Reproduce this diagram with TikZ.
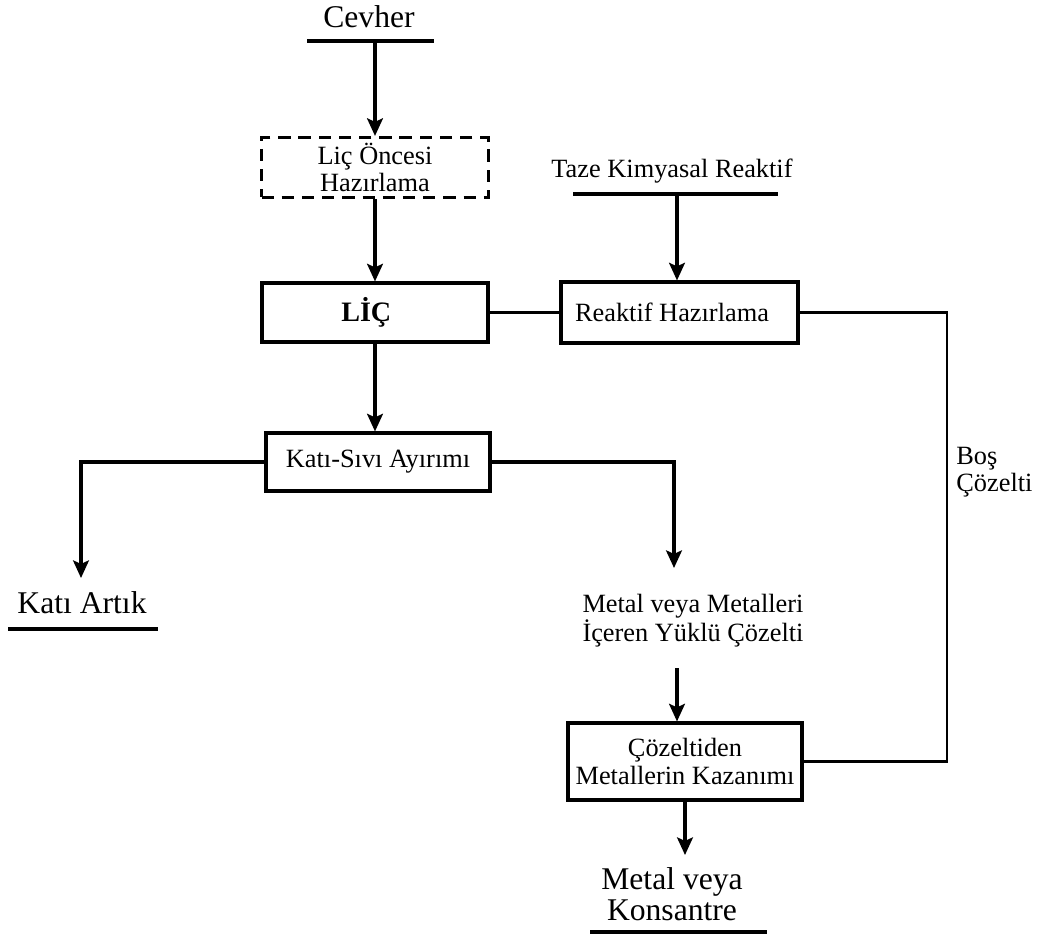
\documentclass[tikz,border=0pt]{standalone}
\usepackage{fontspec}
\setmainfont{Liberation Serif}
\usetikzlibrary{arrows.meta}

\begin{document}
\begin{tikzpicture}[x=0.02cm, y=-0.02cm,
        kutu/.style={draw, line width=1.8pt, inner sep=0pt, align=center,
          font=\fontsize{15}{15.5}\selectfont},
        yazi/.style={inner sep=0pt, align=center},
        akis/.style={line width=1.8pt, -{Stealth[length=10pt, width=9pt, inset=2pt]}},
        hat/.style={line width=1.8pt},
        ince/.style={line width=1.2pt}]
        \useasboundingbox (0,0) rectangle (1038,937);

        \node[yazi, anchor=base, font=\fontsize{18}{20}\selectfont] (cevher) at (369,27) {Cevher};
        \coordinate (cevherS) at (307,41);
        \coordinate (cevherE) at (434,41);
        \coordinate (cevherO) at (375,41);

        \node[kutu, dash pattern=on 7pt off 4.5pt, minimum width=4.54cm, minimum height=1.2cm]
          (hazirlik) at (375,167.5) {Liç Öncesi\\Hazırlama};
        \node[kutu, minimum width=4.52cm, minimum height=1.18cm,
          font=\bfseries\fontsize{16}{18}\selectfont] (lic) at (375,312.5) {LİÇ\hspace*{0.35cm}};

        \node[yazi, anchor=base, font=\fontsize{15}{17}\selectfont] (taze) at (672,177) {Taze Kimyasal Reaktif};
        \coordinate (tazeS) at (573,194);
        \coordinate (tazeE) at (778,194);
        \coordinate (tazeO) at (677,194);
        \node[kutu, minimum width=4.74cm, minimum height=1.22cm] (reak) at (679.5,312.5) {Reaktif Hazırlama\hspace*{0.3cm}};

        \node[kutu, minimum width=4.48cm, minimum height=1.16cm] (kati) at (378,462) {Katı-Sıvı Ayırımı};

        \node[yazi, anchor=base, font=\fontsize{18}{20}\selectfont] (artik) at (82,613) {Katı Artık};
        \coordinate (artikG) at (81,578);
        \coordinate (artikS) at (8,629);
        \coordinate (artikE) at (158,629);

        \node[yazi, font=\fontsize{15}{15.5}\selectfont] (yuklu) at (693,621) {Metal veya Metalleri\\İçeren Yüklü Çözelti};
        \coordinate (yukluG) at (674,568);
        \coordinate (yukluO) at (677,668);

        \node[kutu, minimum width=4.68cm, minimum height=1.54cm] (kazan) at (685,761.5) {Çözeltiden\\Metallerin Kazanımı};

        \node[yazi, font=\fontsize{18}{18}\selectfont] (urun) at (672,894) {Metal veya\\Konsantre};
        \coordinate (urunG) at (685,855);
        \coordinate (urunS) at (590,932);
        \coordinate (urunE) at (767,932);

        \node[yazi, anchor=west, align=left, font=\fontsize{15}{15.5}\selectfont] (bos) at (956,472) {Boş\\Çözelti};
        \coordinate (donus) at (947,312.5);

        \draw[hat] (cevherS) -- (cevherE);
        \draw[akis] (cevherO) -- (hazirlik.north);
        \draw[akis] (hazirlik.south) -- (lic.north);
        \draw[ince] (lic) -- (reak);
        \draw[hat] (tazeS) -- (tazeE);
        \draw[akis] (tazeO) -- (tazeO |- reak.north);
        \draw[ince] (reak.east) -- (donus) |- (kazan.east);
        \draw[akis] (lic.south) -- (lic.south |- kati.north);
        \draw[akis] (kati.west) -| (artikG);
        \draw[hat] (artikS) -- (artikE);
        \draw[akis] (kati.east) -| (yukluG);
        \draw[akis] (yukluO) -- (yukluO |- kazan.north);
        \draw[akis] (kazan.south) -- (urunG);
        \draw[hat] (urunS) -- (urunE);
\end{tikzpicture}
\end{document}
